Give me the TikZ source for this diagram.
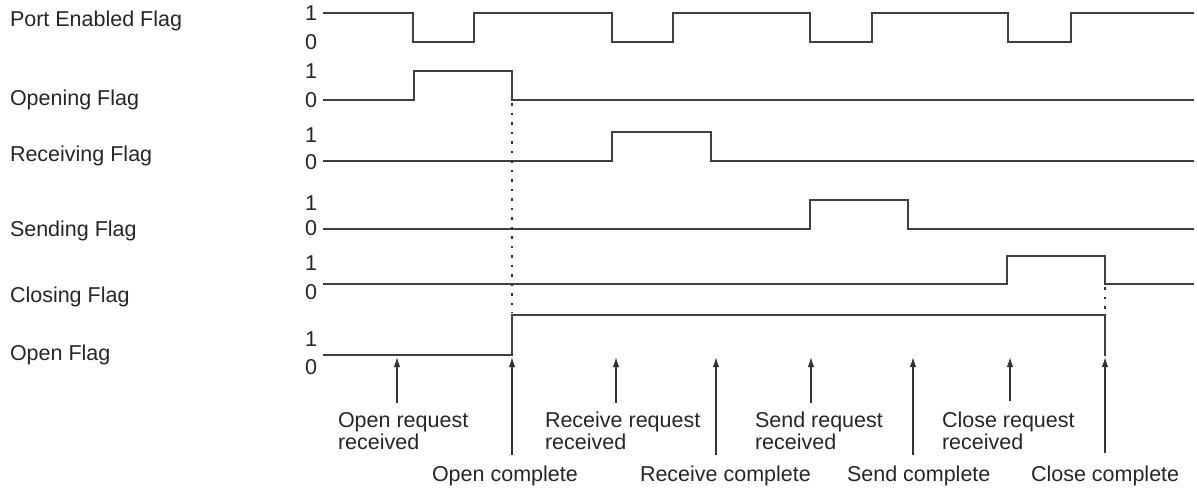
\documentclass[tikz,border=0pt]{standalone}
\usepackage{fontspec}
\setmainfont{Liberation Sans}
\usetikzlibrary{arrows.meta}
\begin{document}
\begin{tikzpicture}[x=1pt,y=-1pt,
  every node/.style={inner sep=0pt,outer sep=0pt,font=\fontsize{21.5}{22}\selectfont,text=black!85},
  wave/.style={draw=black!75,line width=1.4pt,line join=miter},
  guide/.style={draw=black!80,line width=1.2pt,dash pattern=on 2.5pt off 7pt},
  evarrow/.style={draw=black!80,line width=1.3pt,-{Latex[length=10pt,width=6.5pt]}},
  flaglabel/.style={anchor=base west},
  digit/.style={anchor=center},
  evlabel/.style={anchor=north west,align=left},
  donelabel/.style={anchor=base west}]
\useasboundingbox (0,0) rectangle (1197,490);

% flag names
\node[flaglabel] (nPort) at (10,26) {Port Enabled Flag};
\node[flaglabel] (nOpening) at (10,105) {Opening Flag};
\node[flaglabel] (nRecv) at (10,161) {Receiving Flag};
\node[flaglabel] (nSend) at (10,236) {Sending Flag};
\node[flaglabel] (nClosing) at (10,302) {Closing Flag};
\node[flaglabel] (nOpen) at (10,360) {Open Flag};

% 1/0 levels
\node[digit] (p1) at (311,13) {1};
\node[digit] (p0) at (311,42) {0};
\node[digit] (o1) at (311,71) {1};
\node[digit] (o0) at (311,100) {0};
\node[digit] (r1) at (311,135) {1};
\node[digit] (r0) at (311,162) {0};
\node[digit] (s1) at (311,203) {1};
\node[digit] (s0) at (311,228) {0};
\node[digit] (c1) at (311,263) {1};
\node[digit] (c0) at (311,292) {0};
\node[digit] (f1) at (311,339) {1};
\node[digit] (f0) at (311,367) {0};

% waveforms
\draw[wave] (323,13) -- (413,13) -- (413,42) -- (474,42) -- (474,13) -- (612,13) -- (612,42) -- (673,42) -- (673,13) -- (810,13) -- (810,42) -- (872,42) -- (872,13) -- (1008,13) -- (1008,42) -- (1071,42) -- (1071,13) -- (1194,13);
\draw[wave] (323,100) -- (414,100) -- (414,71) -- (512,71) -- (512,100) -- (1194,100);
\draw[wave] (323,161) -- (612,161) -- (612,132) -- (711,132) -- (711,161) -- (1194,161);
\draw[wave] (323,229) -- (810,229) -- (810,200) -- (908,200) -- (908,229) -- (1194,229);
\draw[wave] (323,284) -- (1007,284) -- (1007,256) -- (1105,256) -- (1105,284) -- (1194,284);
\draw[wave] (323,355) -- (512,355) -- (512,315) -- (1105,315) -- (1105,356);

% dotted guides
\draw[guide] (512,103) -- (512,313);
\draw[guide] (1105,287) -- (1105,313);

% event arrow coordinates
\coordinate (t1) at (397,403); \coordinate (h1) at (397,357);
\coordinate (t2) at (512,455); \coordinate (h2) at (512,357);
\coordinate (t3) at (616,403); \coordinate (h3) at (616,357);
\coordinate (t4) at (716,455); \coordinate (h4) at (716,357);
\coordinate (t5) at (811,403); \coordinate (h5) at (811,357);
\coordinate (t6) at (913,455); \coordinate (h6) at (913,357);
\coordinate (t7) at (1010,401); \coordinate (h7) at (1010,357);
\coordinate (t8) at (1105,453); \coordinate (h8) at (1105,357);
\foreach \i in {1,...,8} {\draw[evarrow] (t\i) -- (h\i);}

% event labels
\node[evlabel] (eOpenReq) at (338,412) {Open request\\received};
\node[evlabel] (eRecvReq) at (545,412) {Receive request\\received};
\node[evlabel] (eSendReq) at (755,412) {Send request\\received};
\node[evlabel] (eCloseReq) at (942,412) {Close request\\received};
\node[donelabel] (eOpenDone) at (432,481) {Open complete};
\node[donelabel] (eRecvDone) at (640,481) {Receive complete};
\node[donelabel] (eSendDone) at (847,481) {Send complete};
\node[donelabel] (eCloseDone) at (1031,481) {Close complete};
\end{tikzpicture}
\end{document}
